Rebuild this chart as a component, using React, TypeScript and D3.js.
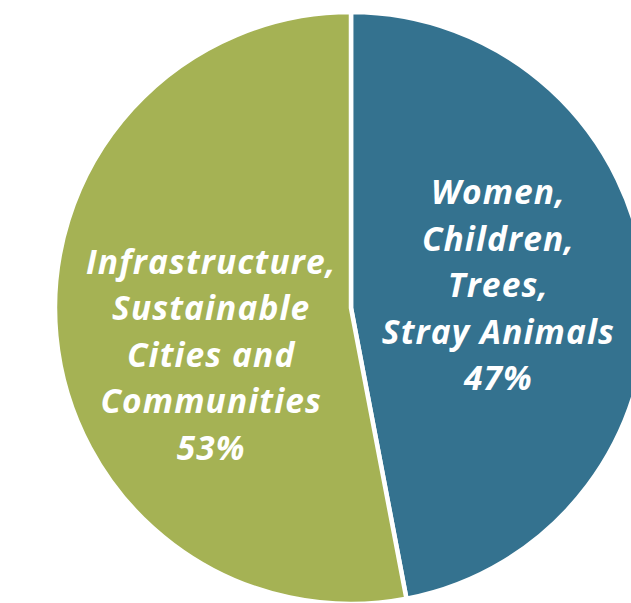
import React from "react";
import * as d3 from "d3";

const categories = ["Women, Children, Trees, Stray Animals", "Infrastructure, Sustainable Cities and Communities"];
const values = [47, 53];
const labelLines = [
  ["Women,", "Children,", "Trees,", "Stray Animals", "47%"],
  ["Infrastructure,", "Sustainable", "Cities and", "Communities", "53%"],
];
const colors = ["#34728f", "#a5b254"];

const W = 631;
const H = 603;
const cx = 351;
const cy = 308;
const R = 296;
const labelOffsets = [
  { dx: 1.5, dy: -9 },
  { dx: 5, dy: 33 },
];

export default function App() {
  const pie = d3
    .pie<number>()
    .sort(null)
    .value((d) => d)
    .startAngle(0)
    .endAngle(2 * Math.PI);
  const arcs = pie(values);
  const arc = d3.arc<d3.PieArcDatum<number>>().innerRadius(0).outerRadius(R);
  const labelArc = d3.arc<d3.PieArcDatum<number>>().innerRadius(146).outerRadius(146);
  const lineH = 46.5;
  const fontSize = 33.5;
  const ls = 1.1;

  return (
    <svg
      width={W}
      height={H}
      style={{ position: "absolute", left: 0, top: 0, display: "block" }}
    >
      <rect width={W} height={H} fill="#ffffff" />
      <g transform={`translate(${cx},${cy})`}>
        {arcs.map((a, i) => (
          <path
            key={categories[i]}
            d={arc(a) || ""}
            fill={colors[i]}
            stroke="#ffffff"
            strokeWidth={4.5}
            strokeLinejoin="miter"
          />
        ))}
        {arcs.map((a, i) => {
          const [x, y] = labelArc.centroid(a);
          const lines = labelLines[i];
          const n = lines.length;
          const x0 = x + labelOffsets[i].dx + ls / 2;
          const y0 = y + labelOffsets[i].dy;
          return (
            <text
              key={"l" + i}
              x={x0}
              y={y0}
              textAnchor="middle"
              fill="#ffffff"
              fontFamily="'Open Sans', Lato, sans-serif"
              fontStyle="italic"
              fontWeight={700}
              fontSize={fontSize}
              letterSpacing={ls}
              style={{ fontVariantLigatures: "none" }}
            >
              {lines.map((ln, j) => (
                <tspan
                  key={j}
                  x={x0}
                  y={y0 + (j - (n - 1) / 2) * lineH + fontSize * 0.36}
                >
                  {ln}
                </tspan>
              ))}
            </text>
          );
        })}
      </g>
    </svg>
  );
}
